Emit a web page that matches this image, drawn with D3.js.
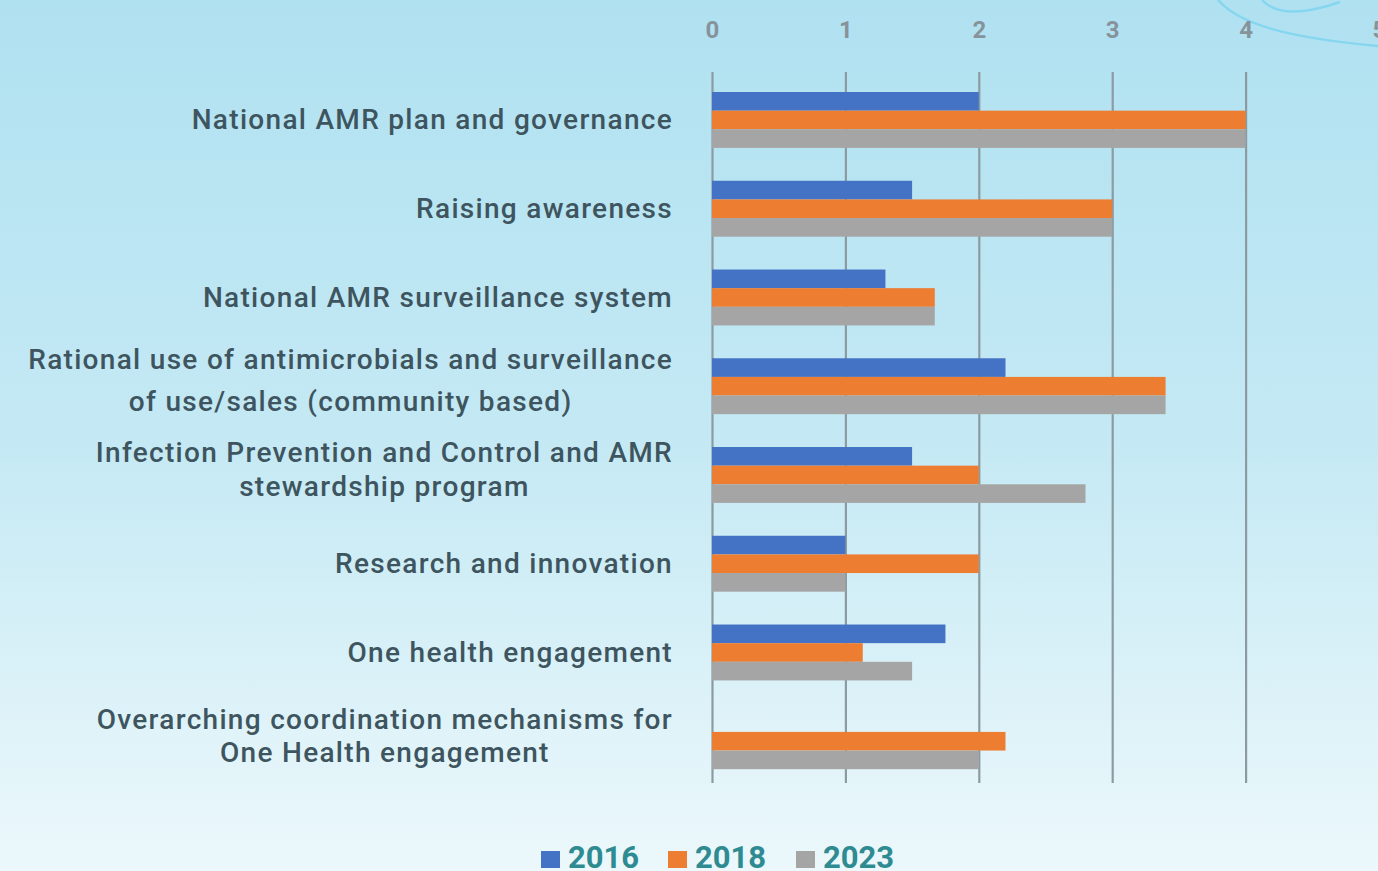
<!DOCTYPE html>
<html>
<head>
<meta charset="utf-8">
<script src="https://cdn.jsdelivr.net/npm/d3@7"></script>
<style>
  html, body { margin: 0; padding: 0; overflow: hidden; }
  #chart { width: 1378px; height: 871px; }
</style>
</head>
<body>
<div id="chart"></div>
<script>
// categories (each entry = lines of the label)
const categories = [
  ["National AMR plan and governance"],
  ["Raising awareness"],
  ["National AMR surveillance system"],
  ["Rational use of antimicrobials and surveillance", "of use/sales (community based)"],
  ["Infection Prevention and Control and AMR", "stewardship program"],
  ["Research and innovation"],
  ["One health engagement"],
  ["Overarching coordination mechanisms for", "One Health engagement"]
];
const years = ["2016", "2018", "2023"];
const values2016 = [2, 1.5, 1.3, 2.2, 1.5, 1, 1.75, 0];
const values2018 = [4, 3, 1.67, 3.4, 2, 2, 1.13, 2.2];
const values2023 = [4, 3, 1.67, 3.4, 2.8, 1, 1.5, 2];
const xTicks = [0, 1, 2, 3, 4, 5];

const colors = { "2016": "#4472c4", "2018": "#ed7d31", "2023": "#a5a5a5" };
const seriesValues = { "2016": values2016, "2018": values2018, "2023": values2023 };

const width = 1378, height = 871;
const labelFont = "Roboto, 'DejaVu Sans', sans-serif";

const svg = d3.select("#chart").append("svg")
    .attr("width", width)
    .attr("height", height);

// background gradient
const defs = svg.append("defs");
const grad = defs.append("linearGradient")
    .attr("id", "bg")
    .attr("x1", 0).attr("y1", 0).attr("x2", 0).attr("y2", 1);
grad.append("stop").attr("offset", "0%").attr("stop-color", "#b0e1f1");
grad.append("stop").attr("offset", "50%").attr("stop-color", "#c4e9f4");
grad.append("stop").attr("offset", "100%").attr("stop-color", "#ecf8fb");

svg.append("rect")
    .attr("width", width)
    .attr("height", height)
    .attr("fill", "url(#bg)");

// decorative swirl top right
svg.append("path")
    .attr("d", "M1218,0 C1240,25 1290,38 1378,46")
    .attr("fill", "none")
    .attr("stroke", "#86d6f0")
    .attr("stroke-width", 2.5);
svg.append("path")
    .attr("d", "M1262,0 C1275,14 1300,16 1340,2")
    .attr("fill", "none")
    .attr("stroke", "#86d6f0")
    .attr("stroke-width", 2.5);

const xScale = d3.scaleLinear()
    .domain([0, 5])
    .range([712, 1379]);

const yScale = d3.scaleBand()
    .domain(d3.range(categories.length))
    .range([75.6, 785.6])
    .paddingInner(0.37)
    .paddingOuter(0.185);

const ySub = d3.scaleBand()
    .domain(years)
    .range([0, yScale.bandwidth()]);

// gridlines
const grid = svg.append("g")
    .attr("transform", "translate(0,72)")
    .call(d3.axisTop(xScale).tickValues(xTicks).tickFormat("").tickSize(-711));
grid.select(".domain").remove();
grid.selectAll(".tick line")
    .attr("stroke", "#8b9ba1")
    .attr("stroke-width", 2.2);

// tick labels on top
const xAxis = svg.append("g")
    .attr("transform", "translate(0,38)")
    .call(d3.axisTop(xScale).tickValues(xTicks).tickFormat(d3.format("d")).tickSize(0).tickPadding(0));
xAxis.select(".domain").remove();
xAxis.selectAll(".tick text")
    .attr("fill", "#86939b")
    .style("font-family", labelFont)
    .style("font-weight", "700")
    .style("font-size", "24px");

// bars
const groups = svg.append("g").selectAll("g")
    .data(categories.map((c, i) => i))
    .join("g")
    .attr("transform", i => `translate(0,${yScale(i)})`);

groups.selectAll("rect")
    .data(i => years.map(y => ({ year: y, value: seriesValues[y][i] })))
    .join("rect")
    .attr("x", xScale(0))
    .attr("y", d => ySub(d.year))
    .attr("width", d => xScale(d.value) - xScale(0))
    .attr("height", ySub.bandwidth())
    .attr("fill", d => colors[d.year]);

// category labels
const lineGap = [0, 0, 0, 42, 34, 0, 0, 33];
const labelX = 673;
function styleLabel(sel) {
  return sel.attr("fill", "#3e5560")
      .style("font-family", labelFont)
      .style("font-weight", "500")
      .style("font-size", "28px")
      .style("letter-spacing", "1.3px");
}
categories.forEach((lines, i) => {
  const cy = yScale(i) + yScale.bandwidth() / 2;
  const t = styleLabel(svg.append("text"))
      .attr("dominant-baseline", "central");
  if (lines.length === 1) {
    t.attr("x", labelX).attr("y", cy).attr("text-anchor", "end").text(lines[0]);
  } else {
    const tmp = styleLabel(svg.append("text")).text(lines[0]);
    const w = tmp.node().getComputedTextLength();
    tmp.remove();
    const center = labelX - w / 2;
    const gap = lineGap[i];
    const top = cy - 6 - gap * (lines.length - 1) / 2;
    lines.forEach((ln, k) => {
      t.append("tspan")
          .attr("x", center)
          .attr("y", top + k * gap)
          .attr("text-anchor", "middle")
          .text(ln);
    });
  }
});

// legend
const legend = svg.append("g").attr("transform", "translate(541,857)");
const legendX = [0, 127, 255];
years.forEach((y, i) => {
  const g = legend.append("g").attr("transform", `translate(${legendX[i]},0)`);
  g.append("rect")
      .attr("x", 0).attr("y", -6)
      .attr("width", 19).attr("height", 17)
      .attr("fill", colors[y]);
  g.append("text")
      .attr("x", 27).attr("y", 0)
      .attr("dominant-baseline", "central")
      .attr("fill", "#2f8b92")
      .style("font-family", labelFont)
      .style("font-weight", "700")
      .style("font-size", "31px")
      .text(y);
});
</script>
</body>
</html>
